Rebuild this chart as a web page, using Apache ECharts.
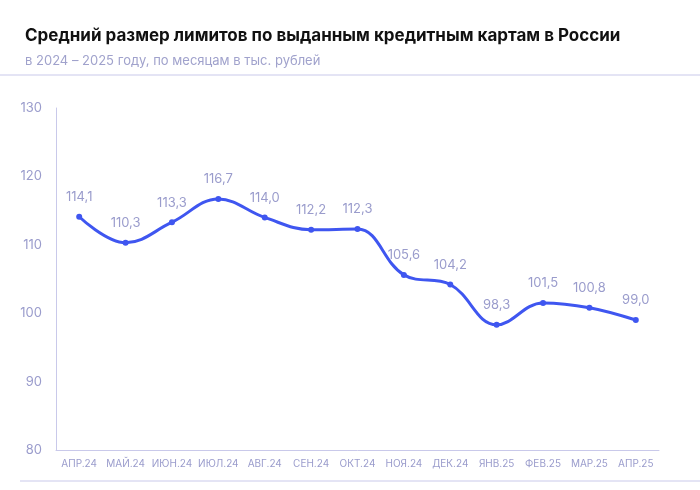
<!DOCTYPE html>
<html>
<head>
<meta charset="utf-8">
<script src="https://cdn.jsdelivr.net/npm/echarts@6/dist/echarts.min.js"></script>
<style>
  html, body { margin: 0; padding: 0; background: #fff; }
  #chart { width: 700px; height: 490px; }
</style>
</head>
<body>
<div id="chart"></div>
<script>
// данные
var months = ['АПР.24', 'МАЙ.24', 'ИЮН.24', 'ИЮЛ.24', 'АВГ.24', 'СЕН.24', 'ОКТ.24', 'НОЯ.24', 'ДЕК.24', 'ЯНВ.25', 'ФЕВ.25', 'МАР.25', 'АПР.25'];
var limits = [114.1, 110.3, 113.3, 116.7, 114.0, 112.2, 112.3, 105.6, 104.2, 98.3, 101.5, 100.8, 99.0];
var yMin = 80, yMax = 130, yStep = 10;

var labelColor = '#9a9ccc';
var lineColor = '#3f56f0';

var chart = echarts.init(document.getElementById('chart'));
chart.setOption({
    animation: false,
    title: [{
        text: 'Средний размер лимитов по выданным кредитным картам в России',
        left: 20, top: 22,
        textStyle: { fontFamily: 'Inter', fontSize: 17, fontWeight: 'bold', color: '#111' }
    }, {
        text: 'в 2024 – 2025 году, по месяцам в тыс. рублей',
        left: 20, top: 50,
        textStyle: { fontFamily: 'Inter', fontSize: 13, fontWeight: 'normal', color: '#a0a2cc' }
    }],
    graphic: [
        { type: 'line', shape: { x1: 0, y1: 75, x2: 700, y2: 75 }, style: { stroke: '#c9c9ea', lineWidth: 1 } },
        { type: 'line', shape: { x1: 20, y1: 481, x2: 700, y2: 481 }, style: { stroke: '#c9c9ea', lineWidth: 1 } }
    ],
    grid: { left: 56, right: 41, top: 108, bottom: 40 },
    xAxis: {
        type: 'category',
        data: months,
        boundaryGap: true,
        axisLine: { lineStyle: { color: '#c9c9ea' } },
        axisTick: { show: false },
        axisLabel: { color: labelColor, fontFamily: 'Inter', fontSize: 10, margin: 9, interval: 0 }
    },
    yAxis: {
        type: 'value',
        min: yMin, max: yMax, interval: yStep,
        axisLine: { show: true, lineStyle: { color: '#c9c9ea' } },
        splitLine: { show: false },
        axisLabel: { color: labelColor, fontFamily: 'Inter', fontSize: 13, margin: 14 }
    },
    series: [{
        type: 'line',
        data: limits,
        smooth: 0.4,
        symbol: 'circle',
        symbolSize: 6,
        lineStyle: { color: lineColor, width: 3 },
        itemStyle: { color: lineColor },
        label: {
            show: true, position: 'top', distance: 10,
            color: labelColor, fontFamily: 'Inter', fontSize: 13,
            formatter: function (p) { return p.value.toFixed(1).replace('.', ','); }
        }
    }]
});
</script>
</body>
</html>
